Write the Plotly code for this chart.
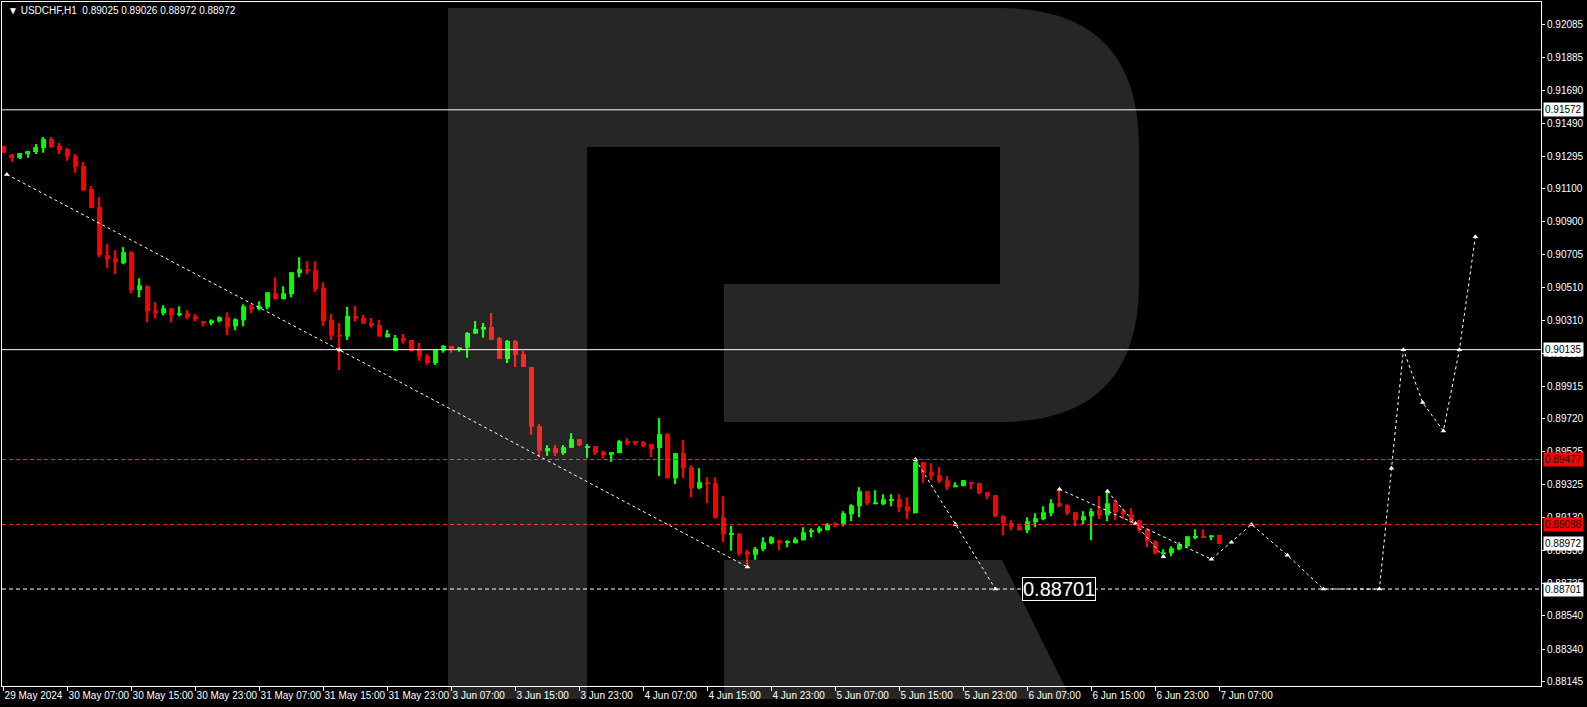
import plotly.graph_objects as go

# ---------------- data ----------------
bar_index = list(range(153))
opens = [0.91355,0.91303,0.91283,0.91307,0.91319,0.91343,0.91397,0.91355,0.91337,0.91295,
         0.91235,0.91097,0.90989,0.90701,0.90683,0.90653,0.90719,0.90491,0.90515,0.90371,
         0.90353,0.90383,0.90341,0.90353,0.90335,0.90305,0.90293,0.90305,0.90329,0.90275,
         0.90311,0.90395,0.90377,0.90389,0.90473,0.90437,0.90467,0.90593,0.90617,0.90611,
         0.90505,0.90313,0.90225,0.90213,0.90337,0.90325,0.90295,0.90283,0.90211,0.90129,
         0.90205,0.90193,0.90133,0.90097,0.90055,0.90129,0.90157,0.90137,0.90147,0.90231,
         0.90255,0.90271,0.90205,0.90079,0.90187,0.90109,0.90031,0.89677,0.89527,0.89545,
         0.89515,0.89547,0.89599,0.89547,0.89557,0.89524,0.89505,0.89515,0.89587,0.89587,
         0.89581,0.89569,0.89545,0.89629,0.89365,0.89515,0.89431,0.89305,0.89341,0.89335,
         0.89131,0.89029,0.89033,0.88925,0.88906,0.88939,0.88975,0.88993,0.88977,0.88975,
         0.88993,0.89041,0.89047,0.89053,0.89095,0.89089,0.89149,0.89197,0.89287,0.89209,
         0.89209,0.89233,0.89239,0.89197,0.89155,0.89461,0.89401,0.89383,0.89353,0.89311,
         0.89317,0.89341,0.89335,0.89281,0.89263,0.89137,0.89095,0.89077,0.89053,0.89101,
         0.89119,0.89155,0.89215,0.89203,0.89161,0.89113,0.89137,0.89173,0.89143,0.89215,
         0.89167,0.89149,0.89113,0.89059,0.88987,0.88909,0.88915,0.88939,0.88957,0.89011,
         0.89017,0.89011,0.89025]
highs = [0.91357,0.91309,0.91313,0.91327,0.91367,0.91409,0.91409,0.91373,0.91343,0.91307,
         0.91259,0.91115,0.91049,0.90767,0.90731,0.90749,0.90725,0.90563,0.90521,0.90419,
         0.90401,0.90383,0.90395,0.90371,0.90347,0.90305,0.90317,0.90335,0.90359,0.90323,
         0.90407,0.90407,0.90425,0.90479,0.90569,0.90515,0.90599,0.90689,0.90665,0.90665,
         0.90539,0.90349,0.90295,0.90391,0.90397,0.90343,0.90325,0.90313,0.90253,0.90223,
         0.90229,0.90193,0.90175,0.90109,0.90133,0.90163,0.90157,0.90151,0.90241,0.90307,
         0.90295,0.90355,0.90211,0.90193,0.90193,0.90127,0.90031,0.89689,0.89563,0.89563,
         0.89563,0.89635,0.89599,0.89569,0.89557,0.89530,0.89521,0.89593,0.89605,0.89587,
         0.89587,0.89569,0.89725,0.89635,0.89515,0.89593,0.89443,0.89425,0.89371,0.89371,
         0.89257,0.89080,0.89035,0.88936,0.88954,0.89011,0.89017,0.88993,0.88993,0.89011,
         0.89071,0.89065,0.89077,0.89095,0.89101,0.89167,0.89209,0.89311,0.89287,0.89293,
         0.89269,0.89269,0.89269,0.89251,0.89477,0.89461,0.89455,0.89431,0.89377,0.89341,
         0.89353,0.89341,0.89335,0.89281,0.89263,0.89143,0.89113,0.89083,0.89131,0.89155,
         0.89197,0.89239,0.89299,0.89209,0.89161,0.89167,0.89185,0.89257,0.89287,0.89239,
         0.89185,0.89185,0.89113,0.89065,0.88993,0.88939,0.88957,0.88981,0.89017,0.89059,
         0.89059,0.89023,0.89026]
lows = [0.91313,0.91261,0.91277,0.91285,0.91307,0.91315,0.91345,0.91307,0.91267,0.91195,
        0.91085,0.90983,0.90689,0.90623,0.90587,0.90647,0.90473,0.90449,0.90299,0.90323,
        0.90341,0.90299,0.90335,0.90317,0.90305,0.90275,0.90281,0.90299,0.90221,0.90251,
        0.90275,0.90353,0.90371,0.90377,0.90437,0.90437,0.90449,0.90569,0.90587,0.90481,
        0.90277,0.90193,0.90013,0.90193,0.90303,0.90291,0.90267,0.90213,0.90207,0.90129,
        0.90171,0.90123,0.90069,0.90045,0.90043,0.90117,0.90117,0.90123,0.90087,0.90231,
        0.90207,0.90193,0.90079,0.90055,0.90031,0.90031,0.89625,0.89493,0.89499,0.89499,
        0.89505,0.89547,0.89557,0.89487,0.89503,0.89482,0.89463,0.89515,0.89563,0.89563,
        0.89551,0.89491,0.89377,0.89365,0.89329,0.89365,0.89251,0.89299,0.89215,0.89123,
        0.88981,0.88930,0.88900,0.88843,0.88876,0.88927,0.88969,0.88933,0.88951,0.88975,
        0.88993,0.89011,0.89035,0.89053,0.89071,0.89077,0.89107,0.89131,0.89203,0.89209,
        0.89203,0.89197,0.89161,0.89119,0.89155,0.89335,0.89353,0.89335,0.89293,0.89311,
        0.89317,0.89299,0.89269,0.89239,0.89131,0.89023,0.89053,0.89053,0.89035,0.89071,
        0.89113,0.89137,0.89191,0.89143,0.89077,0.89089,0.88993,0.89119,0.89107,0.89113,
        0.89119,0.89095,0.89041,0.88951,0.88909,0.88909,0.88897,0.88933,0.88951,0.88999,
        0.89005,0.88993,0.88972]
closes = [0.91315,0.91283,0.91313,0.91325,0.91349,0.91397,0.91349,0.91331,0.91291,0.91231,
          0.91091,0.90983,0.90701,0.90677,0.90659,0.90719,0.90491,0.90521,0.90365,0.90353,
          0.90383,0.90341,0.90353,0.90329,0.90317,0.90293,0.90311,0.90329,0.90269,0.90317,
          0.90395,0.90377,0.90395,0.90479,0.90437,0.90473,0.90599,0.90617,0.90605,0.90497,
          0.90305,0.90219,0.90213,0.90337,0.90321,0.90291,0.90279,0.90213,0.90231,0.90205,
          0.90189,0.90127,0.90093,0.90055,0.90133,0.90157,0.90141,0.90147,0.90235,0.90259,
          0.90271,0.90193,0.90079,0.90187,0.90103,0.90031,0.89673,0.89529,0.89545,0.89515,
          0.89551,0.89599,0.89563,0.89557,0.89517,0.89502,0.89521,0.89587,0.89575,0.89575,
          0.89557,0.89539,0.89629,0.89365,0.89515,0.89425,0.89305,0.89341,0.89329,0.89129,
          0.89029,0.89035,0.88912,0.88906,0.88942,0.88981,0.89011,0.88975,0.88987,0.88999,
          0.89041,0.89053,0.89065,0.89089,0.89083,0.89155,0.89203,0.89287,0.89215,0.89221,
          0.89239,0.89239,0.89191,0.89167,0.89461,0.89395,0.89377,0.89347,0.89311,0.89323,
          0.89353,0.89329,0.89275,0.89257,0.89137,0.89095,0.89071,0.89053,0.89107,0.89125,
          0.89161,0.89215,0.89197,0.89155,0.89113,0.89137,0.89167,0.89143,0.89215,0.89161,
          0.89149,0.89101,0.89053,0.88987,0.88915,0.88921,0.88945,0.88969,0.89017,0.89017,
          0.89011,0.89023,0.88972]

tick_bars = list(range(0, 153, 8))
tick_labels = ["29 May 2024", "30 May 07:00", "30 May 15:00", "30 May 23:00", "31 May 07:00",
               "31 May 15:00", "31 May 23:00", "3 Jun 07:00", "3 Jun 15:00", "3 Jun 23:00",
               "4 Jun 07:00", "4 Jun 15:00", "4 Jun 23:00", "5 Jun 07:00", "5 Jun 15:00",
               "5 Jun 23:00", "6 Jun 07:00", "6 Jun 15:00", "6 Jun 23:00", "7 Jun 07:00"]
price_ticks = [0.92085, 0.91885, 0.91690, 0.91490, 0.91295, 0.91100, 0.90900, 0.90705,
               0.90510, 0.90310, 0.90115, 0.89915, 0.89720, 0.89525, 0.89325, 0.89130,
               0.88930, 0.88735, 0.88540, 0.88340, 0.88145]

levels_white = [0.91572, 0.90135]
levels_red = [0.89477, 0.89088]
level_target = 0.88701
bid_price = 0.88972

trend_bars = [0.4, 42, 93]
trend_prices = [0.91185, 0.90133, 0.88833]
fc_a_bars = [114, 119, 124]
fc_a_prices = [0.89477, 0.89088, 0.88701]
fc_b_bars = [132, 141.5, 151, 153.5, 156, 160.5, 165, 172, 173.5, 175, 177.4, 180, 182, 184]
fc_b_prices = [0.89299, 0.89093, 0.88879, 0.88981, 0.89088, 0.88903, 0.88701, 0.88701,
               0.89424, 0.90135, 0.89818, 0.89648, 0.90135, 0.90812]
fc_c_bars = [138, 145]
fc_c_prices = [0.89287, 0.88895]
target_label_bar = 132

# ---------------- figure ----------------
GREEN = "#00ff00"
RED = "#ff0000"
colors = [GREEN if c > o else RED for o, c in zip(opens, closes)]
MIN_BODY = 0.000018

fig = go.Figure()
fig.add_trace(go.Bar(
    x=bar_index, y=[h - l for h, l in zip(highs, lows)], base=lows,
    width=0.15, marker=dict(color=colors, line=dict(width=0)), hoverinfo="skip"))
fig.add_trace(go.Bar(
    x=bar_index, y=[max(abs(c - o), MIN_BODY) for o, c in zip(opens, closes)],
    base=[min(o, c) for o, c in zip(opens, closes)],
    width=0.62, marker=dict(color=colors, line=dict(width=0)), hoverinfo="skip"))

dash_small = "3px,3px"
for bx, py in [(trend_bars, trend_prices), (fc_a_bars, fc_a_prices),
               (fc_b_bars, fc_b_prices), (fc_c_bars, fc_c_prices)]:
    fig.add_trace(go.Scatter(
        x=bx, y=py, mode="lines+markers",
        line=dict(color="white", width=1, dash=dash_small),
        marker=dict(symbol="triangle-up", size=5, color="white"),
        hoverinfo="skip"))

shapes = []
for lv in levels_white:
    shapes.append(dict(type="line", xref="paper", x0=0, x1=1, yref="y", y0=lv, y1=lv,
                       line=dict(color="white", width=1)))
for lv in levels_red:
    shapes.append(dict(type="line", xref="paper", x0=0, x1=1, yref="y", y0=lv, y1=lv,
                       line=dict(color="#ff2020", width=1, dash="4px,3px")))
shapes.append(dict(type="line", xref="paper", x0=0, x1=1, yref="y", y0=level_target,
                   y1=level_target, line=dict(color="white", width=1, dash="4px,3px")))

# watermark (pixel geometry -> paper)
L, R, T, B = 2, 1541, 2, 686
def P(px, py):
    return f"{(px - L) / (R - L):.5f},{(B - py) / (B - T):.5f}"

stem = f"M{P(448,8)} L{P(587,8)} L{P(587,699)} L{P(448,699)} Z"
bowl = (f"M{P(587,8)} L{P(1000,8)} Q{P(1139,8)} {P(1139,147)} L{P(1139,283)} "
        f"Q{P(1139,422)} {P(1000,422)} L{P(724,422)} L{P(724,284)} L{P(1000,284)} "
        f"L{P(1000,147)} L{P(587,147)} Z")
leg = f"M{P(724,560)} L{P(1002,560)} L{P(1071,699)} L{P(724,699)} Z"
for pth in (stem, bowl, leg):
    shapes.append(dict(type="path", xref="paper", yref="paper", path=pth,
                       fillcolor="rgba(255,255,255,0.15)", line=dict(width=0), layer="above"))

FONT = "Liberation Sans, Arial, sans-serif"
annotations = []
def price_box(val, bg, fg="black"):
    annotations.append(dict(xref="paper", x=1, xanchor="left", xshift=2, yref="y", y=val,
                            text=f"{val:.5f}", showarrow=False, bgcolor=bg, borderpad=1,
                            font=dict(family=FONT, size=10, color=fg)))
for lv in levels_white:
    price_box(lv, "white")
for lv in levels_red:
    price_box(lv, "#ff0000")
price_box(bid_price, "white")
price_box(level_target, "white")

annotations.append(dict(xref="x", x=target_label_bar, yref="y", y=level_target,
                        text=f"{level_target:.5f}", showarrow=False, bgcolor="black",
                        bordercolor="white", borderwidth=1, borderpad=0,
                        font=dict(family=FONT, size=20, color="white")))
annotations.append(dict(xref="paper", x=0, xanchor="left", xshift=4, yref="paper", y=1,
                        yanchor="top", yshift=-1,
                        text=f"▼ USDCHF,H1  {opens[-1]:.5f} {highs[-1]:.5f} {lows[-1]:.5f} {closes[-1]:.5f}",
                        showarrow=False, font=dict(family=FONT, size=10, color="white")))

fig.update_layout(
    width=1587, height=707, margin=dict(l=L, r=1587 - R, t=T, b=707 - B, autoexpand=False),
    paper_bgcolor="black", plot_bgcolor="black", showlegend=False,
    barmode="overlay", shapes=shapes, annotations=annotations,
    xaxis=dict(range=[-0.2, 192.2], showgrid=False, zeroline=False, automargin=False,
               tickvals=tick_bars, ticktext=tick_labels, ticks="outside", ticklen=4,
               tickcolor="white", ticklabelposition="outside right", tickangle=0,
               showline=True, linecolor="white", linewidth=1, mirror=True,
               tickfont=dict(family=FONT, size=10, color="white")),
    yaxis=dict(range=[0.88120, 0.92218], side="right", showgrid=False, zeroline=False,
               automargin=False,
               tickvals=price_ticks, ticktext=[f"{v:.5f}" for v in price_ticks],
               ticks="outside", ticklen=3, tickcolor="white",
               showline=True, linecolor="white", linewidth=1, mirror=True,
               tickfont=dict(family=FONT, size=10, color="white")),
)

fig.write_html("out.html", config={"displayModeBar": False},
               post_script="document.body.style.margin='0';document.body.style.background='black';")
